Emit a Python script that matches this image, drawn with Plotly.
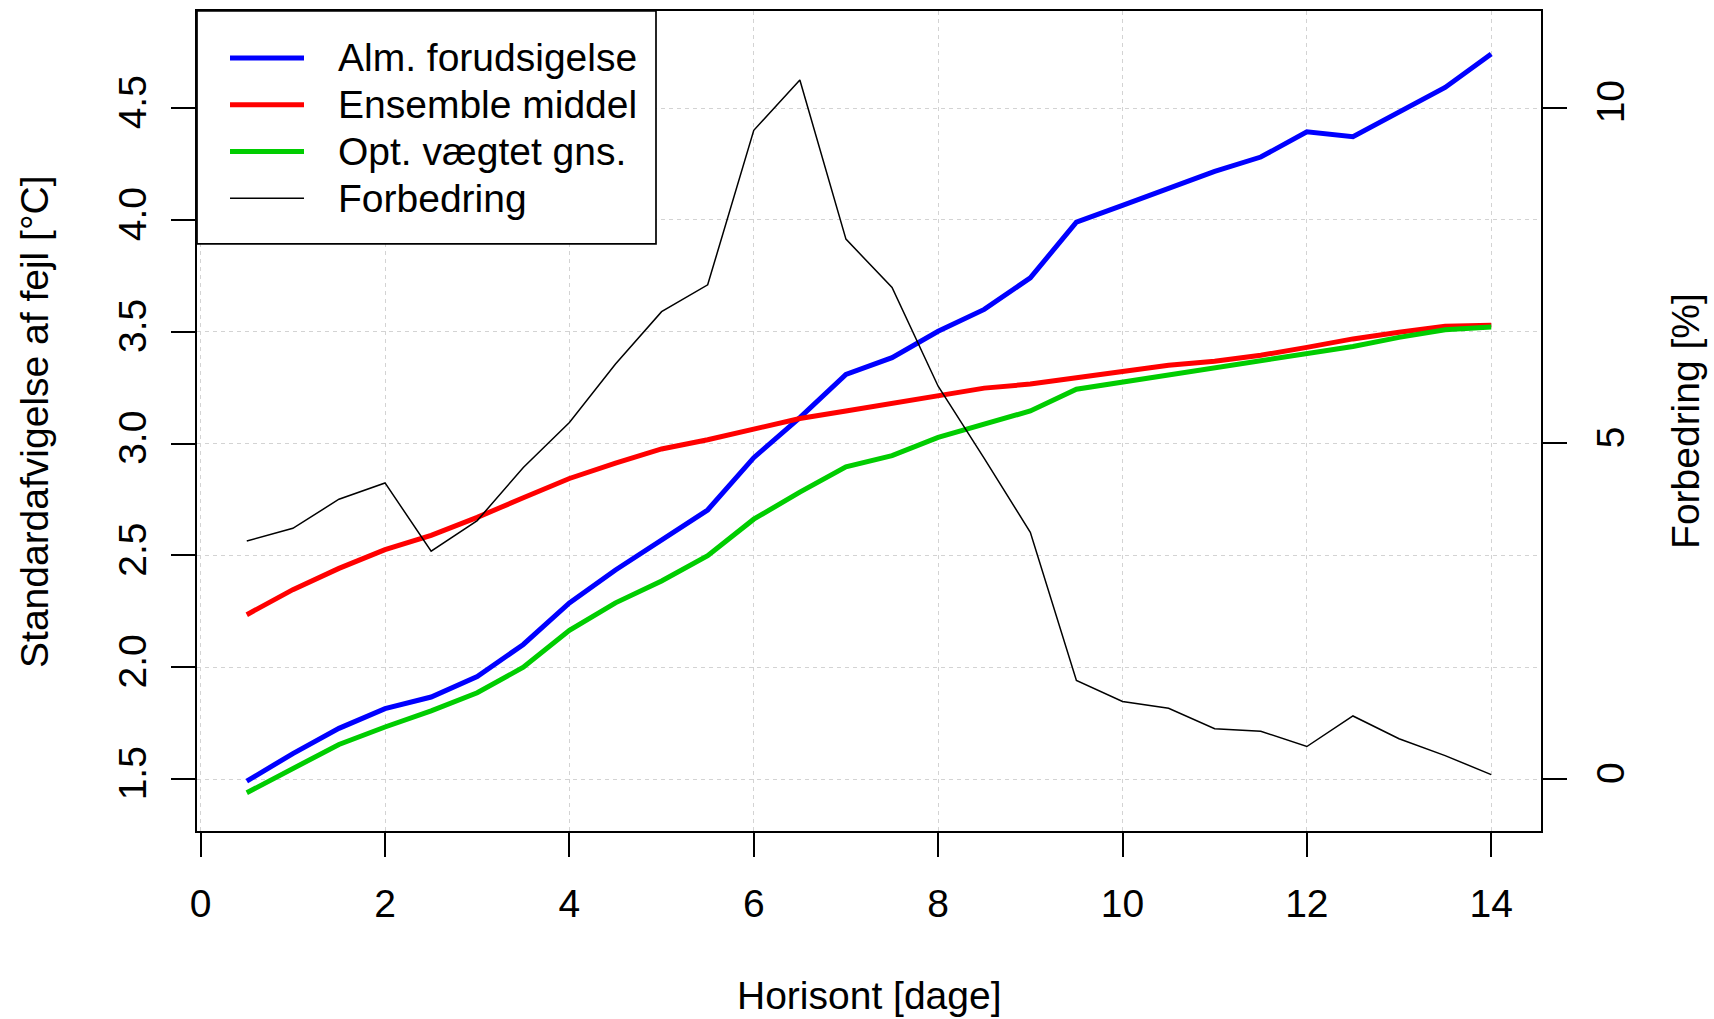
import plotly.graph_objects as go

# ---------------- data ----------------
horisont = [0.5, 1.0, 1.5, 2.0, 2.5, 3.0, 3.5, 4.0, 4.5, 5.0, 5.5, 6.0, 6.5, 7.0,
            7.5, 8.0, 8.5, 9.0, 9.5, 10.0, 10.5, 11.0, 11.5, 12.0, 12.5, 13.0, 13.5, 14.0]

alm_forudsigelse = [1.491, 1.614, 1.727, 1.815, 1.867, 1.959, 2.102, 2.288, 2.435, 2.572,
                    2.703, 2.937, 3.116, 3.309, 3.384, 3.502, 3.600, 3.741, 3.990, 4.065,
                    4.140, 4.217, 4.281, 4.394, 4.372, 4.485, 4.592, 4.742]

ensemble_middel = [2.235, 2.347, 2.442, 2.526, 2.590, 2.670, 2.758, 2.844, 2.913, 2.976,
                   3.017, 3.066, 3.112, 3.146, 3.180, 3.218, 3.248, 3.266, 3.293, 3.321,
                   3.350, 3.368, 3.395, 3.430, 3.468, 3.498, 3.525, 3.529]

opt_vaegtet = [1.439, 1.550, 1.655, 1.733, 1.805, 1.886, 2.000, 2.165, 2.288, 2.386,
               2.499, 2.662, 2.783, 2.896, 2.946, 3.028, 3.089, 3.146, 3.243, 3.275,
               3.309, 3.339, 3.373, 3.407, 3.434, 3.475, 3.509, 3.521]

forbedring = [3.545, 3.734, 4.167, 4.410, 3.393, 3.849, 4.639, 5.310, 6.180, 6.960,
              7.360, 9.660, 10.410, 8.040, 7.320, 5.850, 4.775, 3.675, 1.470, 1.155,
              1.055, 0.750, 0.713, 0.485, 0.940, 0.600, 0.350, 0.066]

x_ticks = [0, 2, 4, 6, 8, 10, 12, 14]
y_ticks = [1.5, 2.0, 2.5, 3.0, 3.5, 4.0, 4.5]
y_ticktext = ["1.5", "2.0", "2.5", "3.0", "3.5", "4.0", "4.5"]
y2_ticks = [0, 5, 10]

series_names = ["Alm. forudsigelse", "Ensemble middel", "Opt. vægtet gns.", "Forbedring"]
series_colors = ["#0000FF", "#FF0000", "#00CD00", "#000000"]
series_widths = [5, 5, 5, 1.5]

# ---------------- figure ----------------
FONT = "Liberation Sans, Arial, Helvetica, sans-serif"
FS = 39

fig = go.Figure()
for vals, name, col, w in zip([alm_forudsigelse, ensemble_middel, opt_vaegtet],
                              series_names[:3], series_colors[:3], series_widths[:3]):
    fig.add_trace(go.Scatter(x=horisont, y=vals, mode="lines", name=name,
                             line=dict(color=col, width=w), yaxis="y",
                             showlegend=False))
fig.add_trace(go.Scatter(x=horisont, y=forbedring, mode="lines", name=series_names[3],
                         line=dict(color=series_colors[3], width=series_widths[3]),
                         yaxis="y2", showlegend=False))

axis_common = dict(
    showline=True, linecolor="black", linewidth=1.7,
    ticks="outside", ticklen=24, tickwidth=1.7, tickcolor="black",
    tickfont=dict(family=FONT, size=FS, color="black"),
    zeroline=False,
)

fig.update_layout(
    width=1714, height=1019,
    margin=dict(l=197, r=173, t=9, b=188),
    paper_bgcolor="white", plot_bgcolor="white",
    font=dict(family=FONT, size=FS, color="black"),
    xaxis=dict(range=[-0.04, 14.54], tickvals=x_ticks, mirror=True,
               showgrid=True, gridcolor="#D3D3D3", gridwidth=1.3, griddash="4px,4px",
               ticklabelstandoff=13, **axis_common),
    yaxis=dict(range=[1.268, 4.934], tickvals=y_ticks, ticktext=y_ticktext, mirror=True,
               tickangle=-90, showgrid=True, gridcolor="#D3D3D3", gridwidth=1.3,
               griddash="4px,4px", ticklabelstandoff=10, **axis_common),
    yaxis2=dict(range=[-0.773, 11.437], tickvals=y2_ticks, overlaying="y", side="right",
                tickangle=-90, showgrid=False, ticklabelstandoff=10, **axis_common),
)

# axis titles
fig.add_annotation(text="Horisont [dage]", xref="paper", yref="paper", x=0.5, y=-0.2007,
                   xanchor="center", yanchor="middle", showarrow=False,
                   font=dict(family=FONT, size=FS, color="black"))
fig.add_annotation(text="Standardafvigelse af fejl [°C]", xref="paper", yref="paper",
                   x=-0.1213, y=0.5, xanchor="center", yanchor="middle", textangle=-90,
                   showarrow=False, font=dict(family=FONT, size=FS, color="black"))
fig.add_annotation(text="Forbedring [%]", xref="paper", yref="paper",
                   x=1.1071, y=0.5, xanchor="center", yanchor="middle", textangle=-90,
                   showarrow=False, font=dict(family=FONT, size=FS, color="black"))

# legend box (top-left corner of the plot region)
PW, PH = 1344.0, 822.0
leg_w, leg_h = 459.0, 233.5
fig.add_shape(type="rect", xref="paper", yref="paper", x0=0, x1=leg_w / PW,
              y0=1 - leg_h / PH, y1=1, line=dict(color="black", width=1.7),
              fillcolor="white", layer="above")
row_top, row_gap = 47.0, 46.9
for i, (name, col, w) in enumerate(zip(series_names, series_colors, series_widths)):
    yy = 1 - (row_top + i * row_gap) / PH
    fig.add_shape(type="line", xref="paper", yref="paper", x0=33 / PW, x1=107 / PW,
                  y0=yy, y1=yy, line=dict(color=col, width=w), layer="above")
    fig.add_annotation(text=name, xref="paper", yref="paper", x=139 / PW, y=yy,
                       xanchor="left", yanchor="middle", showarrow=False,
                       font=dict(family=FONT, size=FS, color="black"))

fig.write_html("out.html", config={"displayModeBar": False},
               post_script="document.body.style.margin='0';document.body.style.overflow='hidden';")
